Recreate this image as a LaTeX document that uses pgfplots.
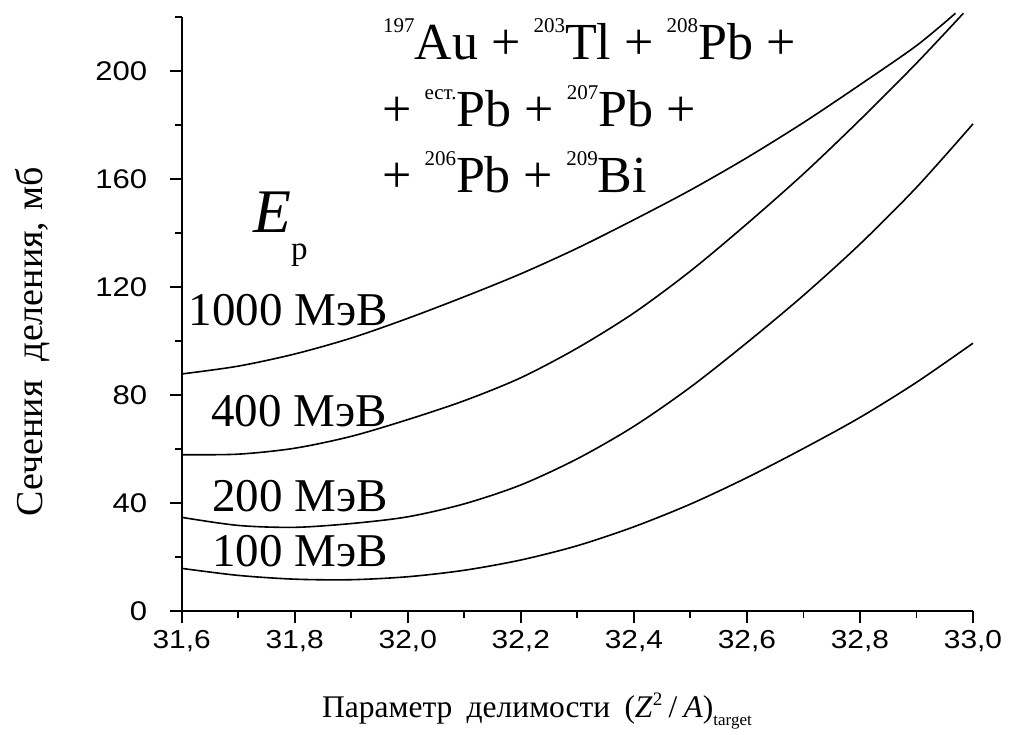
\documentclass[border=0pt]{standalone}
\usepackage{fontspec}
\setmainfont{Liberation Serif}
\newfontfamily\tickfont[FakeStretch=1.15]{Liberation Sans}
\usepackage{pgfplots}
\pgfplotsset{compat=1.18}
\newcommand\sups[1]{\raisebox{27pt}{\fontsize{21}{21}\selectfont #1}}

\pgfplotstableread{
x y
31.6 87.9
31.7 90.8
31.8 95.3
31.9 101.2
32.0 108.5
32.1 116.5
32.2 125
32.3 134.5
32.4 145
32.5 156
32.6 168
32.7 181
32.8 195
32.9 209.5
32.969 221.5
}\dataA
\pgfplotstableread{
x y
31.6 58
31.7 58.2
31.8 60.4
31.9 64.8
32.0 71
32.1 78
32.2 86.5
32.3 97.5
32.4 110.5
32.5 126
32.6 143.5
32.7 162
32.8 182
32.9 203
32.983 221.5
}\dataB
\pgfplotstableread{
x y
31.6 34.8
31.7 31.8
31.8 31.1
31.9 32.5
32.0 35
32.1 39.8
32.2 46.8
32.3 56.5
32.4 68.5
32.5 83
32.6 99.5
32.7 117
32.8 136
32.9 157
33.0 180.5
}\dataC
\pgfplotstableread{
x y
31.6 15.9
31.7 13.3
31.8 11.9
31.9 11.7
32.0 12.8
32.1 15.2
32.2 19
32.3 24.3
32.4 31.3
32.5 39.7
32.6 49.5
32.7 60.3
32.8 71.8
32.9 84.8
33.0 99.3
}\dataD

\begin{document}
\begin{tikzpicture}
\path[use as bounding box] (0,0) rectangle (1012pt,734pt);
\begin{axis}[
  at={(181.7pt,122.7pt)}, anchor=south west,
  scale only axis, width=791.3pt, height=594pt,
  xmin=31.6, xmax=33.0, ymin=0, ymax=220,
  axis x line*=bottom, axis y line*=left,
  axis line style={line width=1.8pt, black},
  tick align=outside,
  xtick={31.6,31.8,32.0,32.2,32.4,32.6,32.8,33.0},
  minor xtick={31.7,31.9,32.1,32.3,32.5,32.7,32.9},
  ytick={0,40,80,120,160,200},
  minor ytick={20,60,100,140,180,220},
  major tick length=12pt, minor tick length=7pt,
  every tick/.style={line width=1.8pt, black},
  /pgf/number format/assume math mode=true,
  xticklabel style={font=\tickfont\fontsize{26}{26}\selectfont, yshift=-4pt,
    /pgf/number format/.cd, use comma, fixed, fixed zerofill, precision=1},
  yticklabel style={font=\tickfont\fontsize{27}{27}\selectfont, xshift=-19pt},
  clip=false,
]
\addplot[black, line width=1.6pt, smooth] table {\dataA};
\addplot[black, line width=1.6pt, smooth] table {\dataB};
\addplot[black, line width=1.6pt, smooth] table {\dataC};
\addplot[black, line width=1.6pt, smooth] table {\dataD};
\end{axis}
\node[anchor=base east, inner sep=0, font=\rmfamily\fontsize{47}{47}\selectfont] at (388pt,408pt) {1000 МэВ};
\node[anchor=base east, inner sep=0, font=\rmfamily\fontsize{47}{47}\selectfont] at (387pt,307pt) {400 МэВ};
\node[anchor=base east, inner sep=0, font=\rmfamily\fontsize{47}{47}\selectfont] at (388pt,222pt) {200 МэВ};
\node[anchor=base east, inner sep=0, font=\rmfamily\fontsize{47}{47}\selectfont] at (388pt,167pt) {100 МэВ};
\node[anchor=base west, inner sep=0, font=\rmfamily] at (253pt,501pt) {\fontsize{62}{62}\selectfont\textit{E}\raisebox{-27pt}{\fontsize{33}{33}\selectfont p}};
\node[anchor=base west, inner sep=0, font=\rmfamily\fontsize{52}{52}\selectfont] at (383pt,674pt) {\sups{197}Au + \sups{203}Tl + \sups{208}Pb +};
\node[anchor=base west, inner sep=0, font=\rmfamily\fontsize{52}{52}\selectfont] at (382pt,607pt) {+ \sups{ест.}Pb + \sups{207}Pb +};
\node[anchor=base west, inner sep=0, font=\rmfamily\fontsize{52}{52}\selectfont] at (382pt,541pt) {+ \sups{206}Pb + \sups{209}Bi};
\node[anchor=base, inner sep=0, rotate=90, font=\rmfamily\fontsize{38}{38}\selectfont] at (42pt,392.5pt) {Сечения\hspace{0.5em}деления,\hspace{0.3em}мб};
\node[anchor=base west, inner sep=0, font=\rmfamily\fontsize{31.5}{31.5}\selectfont] at (322pt,17pt) {Параметр\hspace{0.45em}делимости\hspace{0.45em}(\textit{Z}\raisebox{12pt}{\fontsize{19}{19}\selectfont 2}\hspace{0.2em}/\hspace{0.2em}\textit{A})\raisebox{-8pt}{\fontsize{17}{17}\selectfont target}};
\end{tikzpicture}
\end{document}
